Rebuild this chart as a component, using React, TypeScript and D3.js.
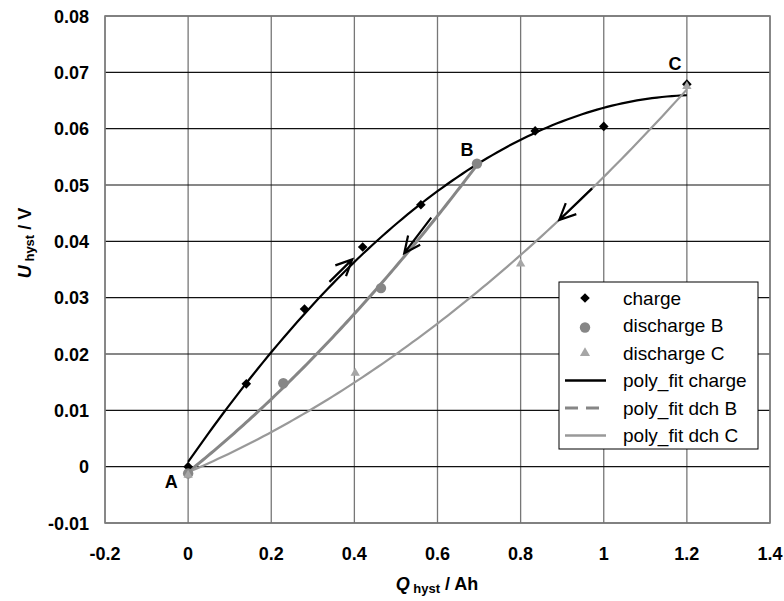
import React from "react";
import * as d3 from "d3";

// Measured hysteresis points (Q in Ah, U in V)
const chargeQ = [0, 0.14, 0.28, 0.42, 0.56, 0.835, 1.0, 1.2];
const chargeU = [0, 0.0147, 0.028, 0.039, 0.0465, 0.0596, 0.0604, 0.0679];
const dischargeBQ = [0, 0.229, 0.464, 0.695];
const dischargeBU = [-0.0012, 0.0148, 0.0317, 0.0538];
const dischargeCQ = [0, 0.402, 0.8, 1.2];
const dischargeCU = [-0.0015, 0.0166, 0.036, 0.0675];

const xTicks = [-0.2, 0, 0.2, 0.4, 0.6, 0.8, 1, 1.2, 1.4];
const yTicks = [-0.01, 0, 0.01, 0.02, 0.03, 0.04, 0.05, 0.06, 0.07, 0.08];

const legendLabels = [
  "charge",
  "discharge B",
  "discharge C",
  "poly_fit charge",
  "poly_fit dch B",
  "poly_fit dch C",
];

// Direction arrows along the branches: [fromQ, fromU, toQ, toU]
const arrows = [
  [0.34, 0.0328, 0.395, 0.0368],
  [0.585, 0.0442, 0.52, 0.0379],
  [0.972, 0.0494, 0.893, 0.0438],
];

const W = 784;
const H = 601;
const M = { left: 105, right: 770, top: 16, bottom: 523 };
const FONT = "'Liberation Sans', Arial, Helvetica, sans-serif";

// Least-squares polynomial fit, returns coefficients c0..cn
function polyFit(xs: number[], ys: number[], deg: number): number[] {
  const n = deg + 1;
  const A: number[][] = Array.from({ length: n }, () => new Array(n + 1).fill(0));
  for (let i = 0; i < xs.length; i++) {
    for (let r = 0; r < n; r++) {
      for (let c = 0; c < n; c++) A[r][c] += Math.pow(xs[i], r + c);
      A[r][n] += ys[i] * Math.pow(xs[i], r);
    }
  }
  for (let p = 0; p < n; p++) {
    let best = p;
    for (let r = p + 1; r < n; r++) if (Math.abs(A[r][p]) > Math.abs(A[best][p])) best = r;
    [A[p], A[best]] = [A[best], A[p]];
    for (let r = 0; r < n; r++) {
      if (r === p) continue;
      const f = A[r][p] / A[p][p];
      for (let c = p; c <= n; c++) A[r][c] -= f * A[p][c];
    }
  }
  return A.map((row, i) => row[n] / row[i]);
}

function evalPoly(c: number[], x: number) {
  return c.reduce((s, ci, i) => s + ci * Math.pow(x, i), 0);
}

function fitCurve(xs: number[], ys: number[], deg: number) {
  const c = polyFit(xs, ys, deg);
  const lo = d3.min(xs) as number;
  const hi = d3.max(xs) as number;
  return d3.range(0, 101).map((i) => {
    const x = lo + ((hi - lo) * i) / 100;
    return [x, evalPoly(c, x)] as [number, number];
  });
}

export default function App() {
  const x = d3.scaleLinear().domain([-0.2, 1.4]).range([M.left, M.right]);
  const y = d3.scaleLinear().domain([-0.01, 0.08]).range([M.bottom, M.top]);
  const line = d3
    .line<[number, number]>()
    .x((d) => x(d[0]))
    .y((d) => y(d[1]));

  const chargeFit = fitCurve(chargeQ, chargeU, 2);
  const bFit = fitCurve(dischargeBQ, dischargeBU, 2);
  const cFit = fitCurve(dischargeCQ, dischargeCU, 2);

  // square diamond marker (a square turned by 45 degrees)
  const diamond = d3.symbol().type(d3.symbolSquare).size(46)() as string;
  const triangle = d3.symbol().type(d3.symbolTriangle).size(38)() as string;
  const triangleL = d3.symbol().type(d3.symbolTriangle).size(44)() as string;

  const arrowPath = (a: number[]) => {
    const x1 = x(a[0]), y1 = y(a[1]), x2 = x(a[2]), y2 = y(a[3]);
    const ang = Math.atan2(y1 - y2, x1 - x2);
    const len = 18;
    const spread = (25 * Math.PI) / 180;
    const p1 = [x2 + len * Math.cos(ang + spread), y2 + len * Math.sin(ang + spread)];
    const p2 = [x2 + len * Math.cos(ang - spread), y2 + len * Math.sin(ang - spread)];
    return `M${x1},${y1}L${x2},${y2}M${p1[0]},${p1[1]}L${x2},${y2}L${p2[0]},${p2[1]}`;
  };

  const legX = 559, legY = 282, legW = 199, legH = 167, rowH = 27.5;

  return (
    <svg width={W} height={H} style={{ display: "block", position: "absolute", left: 0, top: 0 }} fontFamily={FONT}>
      <rect width={W} height={H} fill="#fff" />
      {/* grid */}
      {xTicks.map((t) => (
        <line key={"gx" + t} x1={x(t)} x2={x(t)} y1={M.top} y2={M.bottom} stroke="#777" strokeWidth={1.3} />
      ))}
      {yTicks.map((t) => (
        <line key={"gy" + t} x1={M.left} x2={M.right} y1={y(t)} y2={y(t)} stroke="#111" strokeWidth={1.2} />
      ))}
      <rect x={M.left} y={M.top} width={M.right - M.left} height={M.bottom - M.top} fill="none" stroke="#808080" strokeWidth={1.6} />

      {/* tick labels */}
      {xTicks.map((t) => (
        <text key={"xl" + t} x={x(t)} y={560} textAnchor="middle" fontSize={18} fontWeight="bold" fill="#000">
          {String(t)}
        </text>
      ))}
      {yTicks.map((t) => (
        <text key={"yl" + t} x={89} y={y(t) + 6.5} textAnchor="end" fontSize={18} fontWeight="bold" fill="#000">
          {String(t)}
        </text>
      ))}

      {/* axis titles */}
      <text x={437} y={590} textAnchor="middle" fontSize={18} fontWeight="bold" fill="#000">
        <tspan fontStyle="italic">Q</tspan>
        <tspan fontSize={13} dy={3}> hyst</tspan>
        <tspan dy={-3}> / Ah</tspan>
      </text>
      <text transform={`translate(31,243) rotate(-90)`} textAnchor="middle" fontSize={18} fontWeight="bold" fill="#000">
        <tspan fontStyle="italic">U</tspan>
        <tspan fontSize={13} dy={3}> hyst</tspan>
        <tspan dy={-3}> / V</tspan>
      </text>

      {/* fitted branches */}
      <path d={line(chargeFit) as string} fill="none" stroke="#000" strokeWidth={2.2} />
      <path d={line(bFit) as string} fill="none" stroke="#868686" strokeWidth={3} />
      <path d={line(cFit) as string} fill="none" stroke="#999" strokeWidth={2.2} />

      {/* markers */}
      {chargeQ.map((q, i) => (
        <path key={"c" + i} d={diamond} transform={`translate(${x(q)},${y(chargeU[i])}) rotate(45)`} fill="#000" />
      ))}
      {dischargeBQ.map((q, i) => (
        <circle key={"b" + i} cx={x(q)} cy={y(dischargeBU[i])} r={5.2} fill="#868686" />
      ))}
      {dischargeCQ.map((q, i) => (
        <path key={"t" + i} d={triangle} transform={`translate(${x(q)},${y(dischargeCU[i])})`} fill="#a6a6a6" />
      ))}

      {/* direction arrows */}
      {arrows.map((a, i) => (
        <path key={"a" + i} d={arrowPath(a)} fill="none" stroke="#000" strokeWidth={2.2} strokeLinejoin="miter" />
      ))}

      {/* point labels */}
      <text x={x(0) - 17} y={y(0) + 21} textAnchor="middle" fontSize={18} fontWeight="bold">A</text>
      <text x={x(dischargeBQ[3]) - 10} y={y(dischargeBU[3]) - 8} textAnchor="middle" fontSize={18} fontWeight="bold">B</text>
      <text x={x(1.2) - 12} y={y(0.0679) - 14} textAnchor="middle" fontSize={18} fontWeight="bold">C</text>

      {/* legend */}
      <rect x={legX} y={legY} width={legW} height={legH} fill="#fff" stroke="#000" strokeWidth={1} />
      {legendLabels.map((lab, i) => {
        const cy = legY + 16 + i * rowH;
        const sx = 585;
        let sym: React.ReactNode = null;
        if (i === 0) sym = <path d={diamond} transform={`translate(${sx},${cy}) rotate(45)`} fill="#000" />;
        if (i === 1) sym = <circle cx={sx} cy={cy + 2} r={5.2} fill="#868686" />;
        if (i === 2) sym = <path d={triangleL} transform={`translate(${sx},${cy})`} fill="#a6a6a6" />;
        if (i === 3) sym = <line x1={565} x2={606} y1={cy} y2={cy} stroke="#000" strokeWidth={2.5} />;
        if (i === 4) sym = <line x1={565} x2={606} y1={cy} y2={cy} stroke="#868686" strokeWidth={3} strokeDasharray="13 8" />;
        if (i === 5) sym = <line x1={565} x2={606} y1={cy} y2={cy} stroke="#999" strokeWidth={2.5} />;
        return (
          <g key={lab}>
            {sym}
            <text x={623} y={cy + 6.5} fontSize={19} fill="#000">{lab}</text>
          </g>
        );
      })}
    </svg>
  );
}
